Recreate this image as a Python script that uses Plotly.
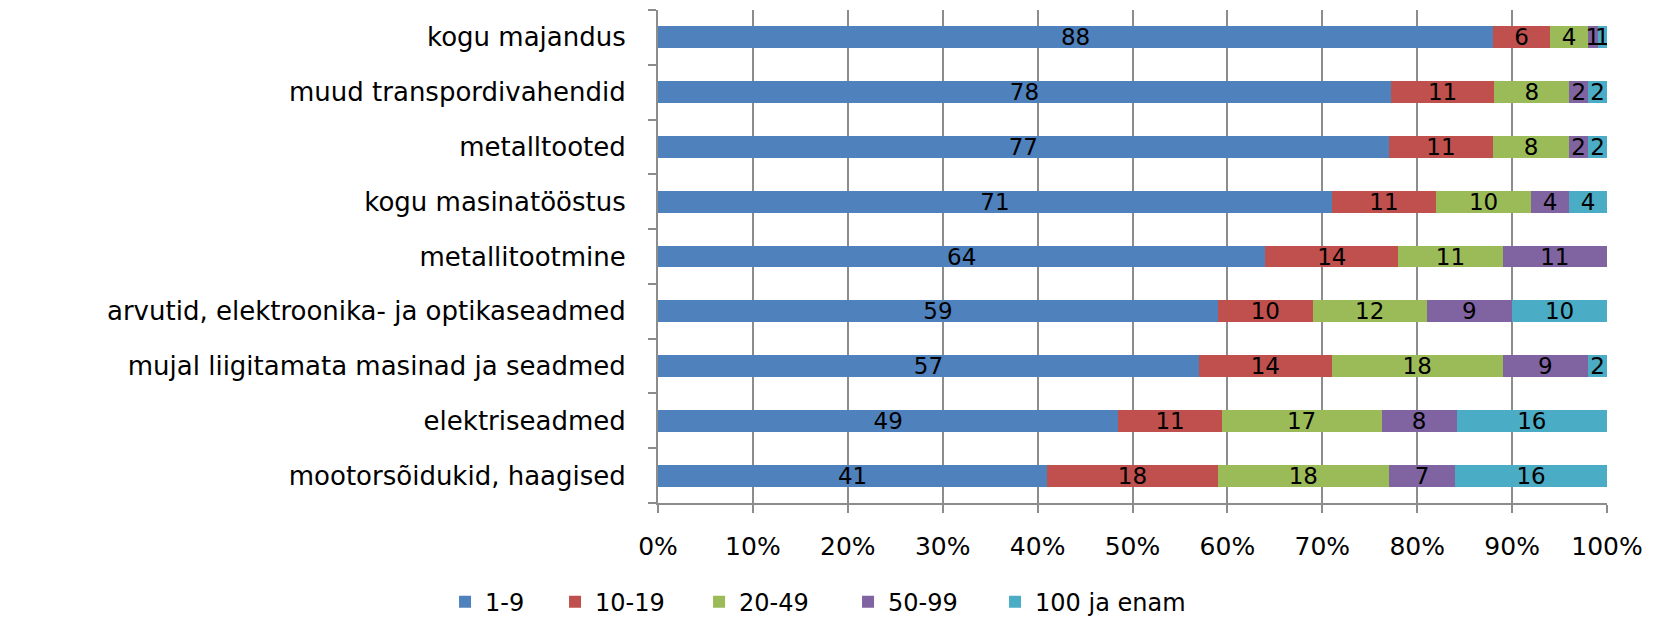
import plotly.graph_objects as go

categories = [
    "mootorsõidukid, haagised",
    "elektriseadmed",
    "mujal liigitamata masinad ja seadmed",
    "arvutid, elektroonika- ja optikaseadmed",
    "metallitootmine",
    "kogu masinatööstus",
    "metalltooted",
    "muud transpordivahendid",
    "kogu majandus",
]
series_names = ["1-9", "10-19", "20-49", "50-99", "100 ja enam"]
s_1_9 = [41, 49, 57, 59, 64, 71, 77, 78, 88]
s_10_19 = [18, 11, 14, 10, 14, 11, 11, 11, 6]
s_20_49 = [18, 17, 18, 12, 11, 10, 8, 8, 4]
s_50_99 = [7, 8, 9, 9, 11, 4, 2, 2, 1]
s_100 = [16, 16, 2, 10, 0, 4, 2, 2, 1]
x_ticks = [0, 10, 20, 30, 40, 50, 60, 70, 80, 90, 100]

colors = ["#4F81BD", "#C0504D", "#9BBB59", "#8064A2", "#4BACC6"]
legend_widths = [65, 99, 104, 102, 160]
all_series = [s_1_9, s_10_19, s_20_49, s_50_99, s_100]
FONT = "DejaVu Sans, Liberation Sans, Arial"

fig = go.Figure()
for name, vals, col, lw in zip(series_names, all_series, colors, legend_widths):
    fig.add_trace(go.Bar(
        y=categories, x=vals, name=name, orientation="h",
        marker=dict(color=col, line=dict(width=0)),
        text=[str(v) if v > 0 else "" for v in vals],
        textposition="inside", insidetextanchor="middle",
        constraintext="none", textangle=0,
        textfont=dict(family=FONT, size=23, color="black"),
        hoverinfo="x+y+name",
        legendwidth=lw,
    ))

# page body has an 8px default margin, so the figure is 8px smaller
fig.update_layout(
    barmode="stack", barnorm="percent", bargap=0.6,
    width=1661, height=610,
    margin=dict(l=650, r=62, t=2, b=115, autoexpand=False),
    plot_bgcolor="white", paper_bgcolor="white",
    font=dict(family=FONT, color="black"),
    legend=dict(
        orientation="h",
        x=-0.2244, xanchor="left", y=-0.201, yanchor="middle",
        font=dict(family=FONT, size=24),
        itemwidth=30, traceorder="normal",
    ),
    showlegend=True,
)
fig.update_xaxes(
    range=[0, 100], tickvals=x_ticks, ticktext=[f"{t}%" for t in x_ticks],
    showgrid=True, gridcolor="#8c8c8c", gridwidth=2,
    showline=True, linecolor="#8c8c8c", linewidth=2,
    ticks="outside", ticklen=8, tickcolor="#8c8c8c", tickwidth=2,
    ticklabelstandoff=12,
    tickfont=dict(family=FONT, size=25),
    zeroline=False,
)
fig.update_yaxes(
    categoryorder="array", categoryarray=categories,
    showline=True, linecolor="#8c8c8c", linewidth=2,
    ticks="outside", ticklen=8, tickcolor="#8c8c8c", tickwidth=2,
    tickson="boundaries", ticklabelstandoff=25,
    tickfont=dict(family=FONT, size=26),
    showgrid=False,
)

fig.write_html("out.html")
